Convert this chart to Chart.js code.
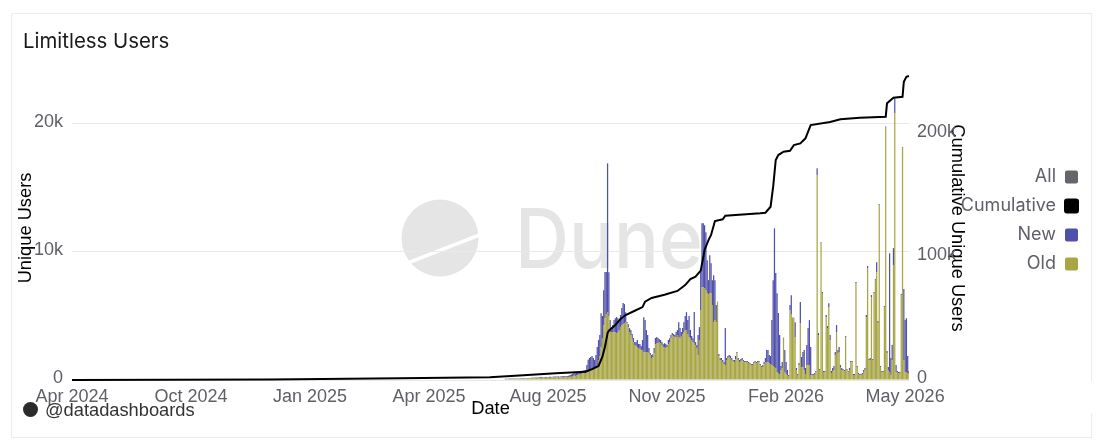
<!DOCTYPE html>
<html><head><meta charset="utf-8">
<script src="https://cdn.jsdelivr.net/npm/chart.js@4"></script>
<style>
html,body{margin:0;padding:0;background:#fff;width:1102px;height:446px;overflow:hidden}
#card{position:absolute;left:11px;top:13px;width:1079px;height:423px;border:1px solid #ececec;box-sizing:content-box}
#gap{position:absolute;left:1088px;top:381px;width:5px;height:32px;background:#fff}
#wm{position:absolute;left:0;top:0}
canvas{position:absolute;left:0;top:0}
#credit{position:absolute;left:45px;top:398.5px;font:18.3px "Liberation Sans",Arial,sans-serif;color:#333;line-height:21px;white-space:nowrap}
#avatar{position:absolute;left:23px;top:402px;width:15px;height:15px;border-radius:50%;background:#2b2b2b}
</style></head><body>
<div id="card"></div><div id="gap"></div>
<svg id="wm" width="1102" height="446">
<circle cx="440" cy="238" r="38.5" fill="#e5e5e5"/>
<line x1="405" y1="264" x2="482" y2="234" stroke="#fff" stroke-width="3.5"/>
<text x="515" y="268" font-family="Inter,'Noto Sans',sans-serif" font-size="82" font-weight="500" textLength="188" lengthAdjust="spacingAndGlyphs" fill="#e5e5e5">Dune</text>
</svg>
<canvas id="c" width="1102" height="446"></canvas>
<div id="avatar"></div><div id="credit">@datadashboards</div>
<script>
const tickLabels = ["Apr 2024","Oct 2024","Jan 2025","Apr 2025","Aug 2025","Nov 2025","Feb 2026","May 2026"];
const tickStep = 92;
const categoryCount = 648;

const oldValues = [60,70,80,70,90,80,70,80,90,80,70,90,100,80,90,100,110,90,100,120,140,150,130,160,150,170,160,
160,180,170,190,180,170,190,200,180,190,210,200,190,210,220,200,220,230,210,240,230,220,240,
240,250,310,330,320,390,400,410,470,480,540,560,
550,620,640,710,780,790,860,940,1010,1170,1560,1870,
2570,3280,4290,4840,5150,5300,4990,3740,
3740,3740,3740,3740,3670,3740,3900,4130,4290,4370,4450,4520,4450,4130,3740,3510,3200,2960,2730,2650,2570,2500,2420,2340,2340,2180,2180,2180,2180,2110,1950,1720,1790,2110,2810,2890,2890,2960,2890,2730,2570,2570,2500,2570,2810,2960,3280,3510,3430,3350,3350,3510,3350,3280,3430,3590,3740,3900,3900,3590,3350,3280,3120,2960,2890,2730,2500,1950,3120,
5460,7250,7250,7180,7020,6790,6710,6790,6790,5850,4520,4680,4520,6080,1870,1560,1560,1400,1250,1170,1560,1720,1790,1720,1560,1480,1400,1640,2110,1560,1400,1480,1560,1480,1400,1400,1400,1330,1250,1170,1170,1330,1400,1330,1400,1400,1170,1010,1010,1250,1400,1400,1400,1330,1250,1170,1090,1010,940,620,550,470,780,940,3280,620,470,390,310,
5460,5150,4840,4840,3350,780,390,1170,4450,1010,1010,780,470,1170,1170,1170,390,390,390,470,620,15990,3510,780,10690,6790,620,620,4910,4060,5690,3120,550,700,780,1950,3740,2110,2180,1010,780,780,700,3350,780,620,780,1400,1400,390,390,7570,1010,470,390,390,470,620,780,4910,8740,1560,1560,6470,1560,6790,7800,8420,4450,13650,1010,620,620,5690,19730,2110,780,620,390,1560,8970,20830,620,620,550,550,6630,18100,1560,620,620,550,470];

const newValues = [30,30,20,40,30,30,40,30,20,40,30,30,30,40,40,30,30,50,40,30,40,30,50,40,40,30,50,
50,60,50,40,60,70,50,60,70,50,60,70,80,60,70,60,80,70,90,80,70,80,90,
150,170,160,230,210,240,170,220,240,170,220,230,
230,550,940,1010,1010,1090,860,620,940,1400,1560,1640,
2650,1720,2730,3590,3280,11620,3430,940,
160,550,940,1090,1250,1090,780,940,1330,1640,1480,780,80,230,310,390,390,310,230,310,550,310,390,310,780,2730,2500,1720,1330,390,160,230,230,390,470,470,390,230,230,230,230,310,310,160,310,310,230,160,160,160,390,390,1170,780,310,470,780,1090,1400,1090,1640,620,310,310,2420,230,230,1560,1010,
3120,4990,4990,4910,4520,2570,1090,2960,2340,1950,3670,3120,1330,40,160,160,160,160,160,2890,160,160,160,160,160,80,160,230,80,160,160,160,160,80,80,80,80,80,80,80,80,80,80,80,80,80,80,80,160,160,310,940,940,620,620,3510,6710,10840,7410,6160,4680,3040,310,470,30,1720,940,390,80,
390,1480,30,30,1170,160,80,160,1640,780,1170,1560,470,1560,2890,3510,2180,80,80,80,80,550,160,80,80,80,80,80,160,160,310,390,160,230,310,230,550,230,390,160,160,80,80,80,80,80,160,80,80,80,80,80,80,80,80,80,80,160,160,160,160,80,160,160,80,80,80,780,160,80,80,80,80,80,80,160,230,9280,1330,1170,1330,1170,550,80,80,80,80,80,5540,4060,4210,1330,230,80];

// Cumulative curve: category position and value.
const cumulativeAt = [0,153,254,323,349,374,397,402,407,410,412,414,415,420,424,428,435,441,443,448,458,468,474,478,482,486,489,492,494,497,503,505,532,536,540,542,544,546,550,555,558,563,567,569,571,586,594,609,629,630,635,642,643,645,647];
const cumulativeValues = [0,400,1400,2200,3800,5400,6700,8900,11400,18900,27100,38200,40100,44700,49600,52800,56300,59300,63700,66700,69300,72400,77200,82100,84000,88900,105700,113800,117900,129300,130700,133600,135500,136000,140900,157200,178900,182900,185600,186400,191000,192400,196500,201900,207300,209800,212000,213300,214000,225000,229500,230300,242500,246600,247200];

const categories = [];
for (let i = 0; i < categoryCount; i++) categories.push(i % tickStep === 0 ? tickLabels[i / tickStep] : "");
const lead = new Array(categoryCount - oldValues.length).fill(null);
const cumulativeSeries = new Array(categoryCount).fill(null);
cumulativeAt.forEach((p, k) => { cumulativeSeries[p] = cumulativeValues[k]; });

const tickFont = {family:"'Liberation Sans', Arial, sans-serif", size:18};
const tickColor = "#5f5f68";
const titleFont = {family:"'Liberation Sans', Arial, sans-serif", size:18.3, lineHeight:1.2};
const fmtK = v => v === 0 ? "0" : (v / 1000) + "k";

const placeBlocks = {
  id:"placeBlocks",
  beforeDraw(chart){
    const l = chart.legend; l.left = 950; l.right = 1089; l.top = 157; l.bottom = 420; l.width = 139; l.height = 263;
    chart.titleBlock.left = 23; chart.titleBlock.right = 1000;
  }
};

new Chart(document.getElementById("c"), {
  data:{labels:categories, datasets:[
    {type:"bar", label:"All", data:[], backgroundColor:"#66656b", borderWidth:0, yAxisID:"y", order:3, stack:"s"},
    {type:"line", label:"Cumulative", data:cumulativeSeries, borderColor:"#000", backgroundColor:"#000", borderWidth:2, pointRadius:0, spanGaps:true, yAxisID:"y1", order:0, tension:0, clip:false},
    {type:"bar", label:"New", data:lead.concat(newValues), backgroundColor:"rgba(60,60,163,0.9)", borderWidth:0, yAxisID:"y", order:2, stack:"s"},
    {type:"bar", label:"Old", data:lead.concat(oldValues), backgroundColor:"rgba(160,157,52,0.92)", borderWidth:0, yAxisID:"y", order:1, stack:"s"}
  ]},
  options:{
    responsive:false, animation:false, devicePixelRatio:1,
    layout:{padding:{left:15,right:134,top:0,bottom:0}},
    datasets:{bar:{barPercentage:1,categoryPercentage:0.96}},
    plugins:{
      tooltip:{enabled:false},
      title:{display:true,text:"Limitless Users",align:"start",color:"#1a1a1a",
        font:{family:"Inter, sans-serif",size:20.4,weight:"400",lineHeight:1.2},padding:{top:30,bottom:21.5}},
      legend:{position:"chartArea",align:"start",rtl:true,
        labels:{boxWidth:13,boxHeight:13,useBorderRadius:true,borderRadius:2,padding:11,color:tickColor,
          font:{family:"Inter, sans-serif",size:18},
          sort:(a,b)=>a.datasetIndex-b.datasetIndex}}
    },
    scales:{
      x:{stacked:true,offset:false,grid:{display:false},border:{display:false},
        afterBuildTicks(ax){ax.ticks = tickLabels.map((_,k)=>({value:k*tickStep}));},
        afterFit(ax){ax.height = 66;},
        ticks:{autoSkip:false,maxRotation:0,color:tickColor,font:tickFont,padding:-2},
        title:{display:true,text:"Date",color:"#000",font:titleFont,padding:{top:0,bottom:26}}},
      y:{stacked:true,position:"left",min:0,max:23750,grid:{color:"#e9e9e9",drawTicks:false},border:{display:false},
        afterBuildTicks(ax){ax.ticks=[{value:0},{value:10000},{value:20000}];},
        afterFit(ax){ax.width = 57;},
        ticks:{color:tickColor,font:tickFont,padding:9,labelOffset:-2,callback:fmtK},
        title:{display:true,text:"Unique Users",color:"#000",font:titleFont,padding:0}},
      y1:{position:"right",min:0,max:247200,grid:{display:false},border:{display:false},
        afterBuildTicks(ax){ax.ticks=[{value:0},{value:100000},{value:200000}];},
        afterFit(ax){ax.width = 59;},
        ticks:{color:tickColor,font:tickFont,padding:0,labelOffset:-2,callback:fmtK},
        title:{display:true,text:"Cumulative Unique Users",color:"#000",font:titleFont,padding:0}}
    }
  },
  plugins:[placeBlocks]
});
</script>
</body></html>
